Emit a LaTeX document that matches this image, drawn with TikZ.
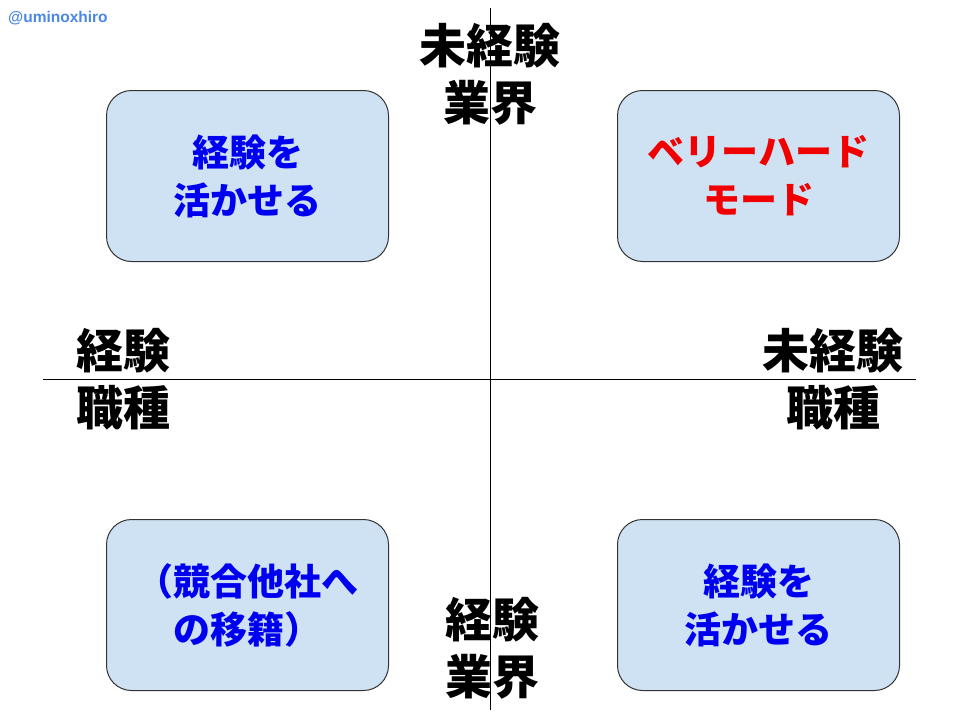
\documentclass[tikz,border=0pt]{standalone}
\usepackage{fontspec}
\setmainfont{Liberation Sans}
\newfontfamily\cjk{Noto Sans CJK JP}
\definecolor{boxfill}{HTML}{CFE2F3}
\definecolor{boxline}{HTML}{333333}
\definecolor{txtblue}{HTML}{0000F0}
\definecolor{txtred}{HTML}{F00000}
\definecolor{wmblue}{HTML}{4A86E8}
\begin{document}
\begin{tikzpicture}[x=1pt,y=-1pt,
  quad/.style={draw=boxline,line width=1pt,fill=boxfill,rounded corners=25pt,minimum width=282pt,minimum height=171pt,anchor=north west},
  boxtext/.style={align=center,font=\cjk\bfseries\fontsize{37}{48}\selectfont,inner sep=0pt},
  axislabel/.style={align=center,font=\cjk\bfseries\fontsize{47}{57}\selectfont,text=black,inner sep=0pt},
  axisline/.style={draw=black,line width=0.9pt}]
\useasboundingbox (0,0) rectangle (960,720);
\fill[white] (0,0) rectangle (960,720);
% axes
\coordinate (vt) at (490,8);
\coordinate (vb) at (490,710);
\coordinate (hl) at (43,379);
\coordinate (hr) at (916,379);
\draw[axisline] (vt) -- (vb);
\draw[axisline] (hl) -- (hr);
% boxes
\node[quad] (tl) at (106,90) {};
\node[quad] (tr) at (617,90) {};
\node[quad] (bl) at (106,519) {};
\node[quad] (br) at (617,519) {};
\node[boxtext,text=txtblue] (tlt) at (tl.center) {経験を\\活かせる};
\node[boxtext,text=txtred] (trt) at (tr.center) {ベリーハード\\モード};
\node[boxtext,text=txtblue] (blt) at (bl.center) {（競合他社へ\\の移籍）};
\node[boxtext,text=txtblue] (brt) at (br.center) {経験を\\活かせる};
% axis labels
\node[axislabel] (top) at (490,74) {未経験\\業界};
\node[axislabel] (bot) at (492,648) {経験\\業界};
\node[axislabel] (left) at (123,379) {経験\\職種};
\node[axislabel] (right) at (833,379) {未経験\\職種};
% watermark
\node[anchor=west,text=wmblue,font=\bfseries\fontsize{15.5}{18}\selectfont,inner sep=0pt] (wm) at (8,18) {@uminoxhiro};
\end{tikzpicture}
\end{document}
